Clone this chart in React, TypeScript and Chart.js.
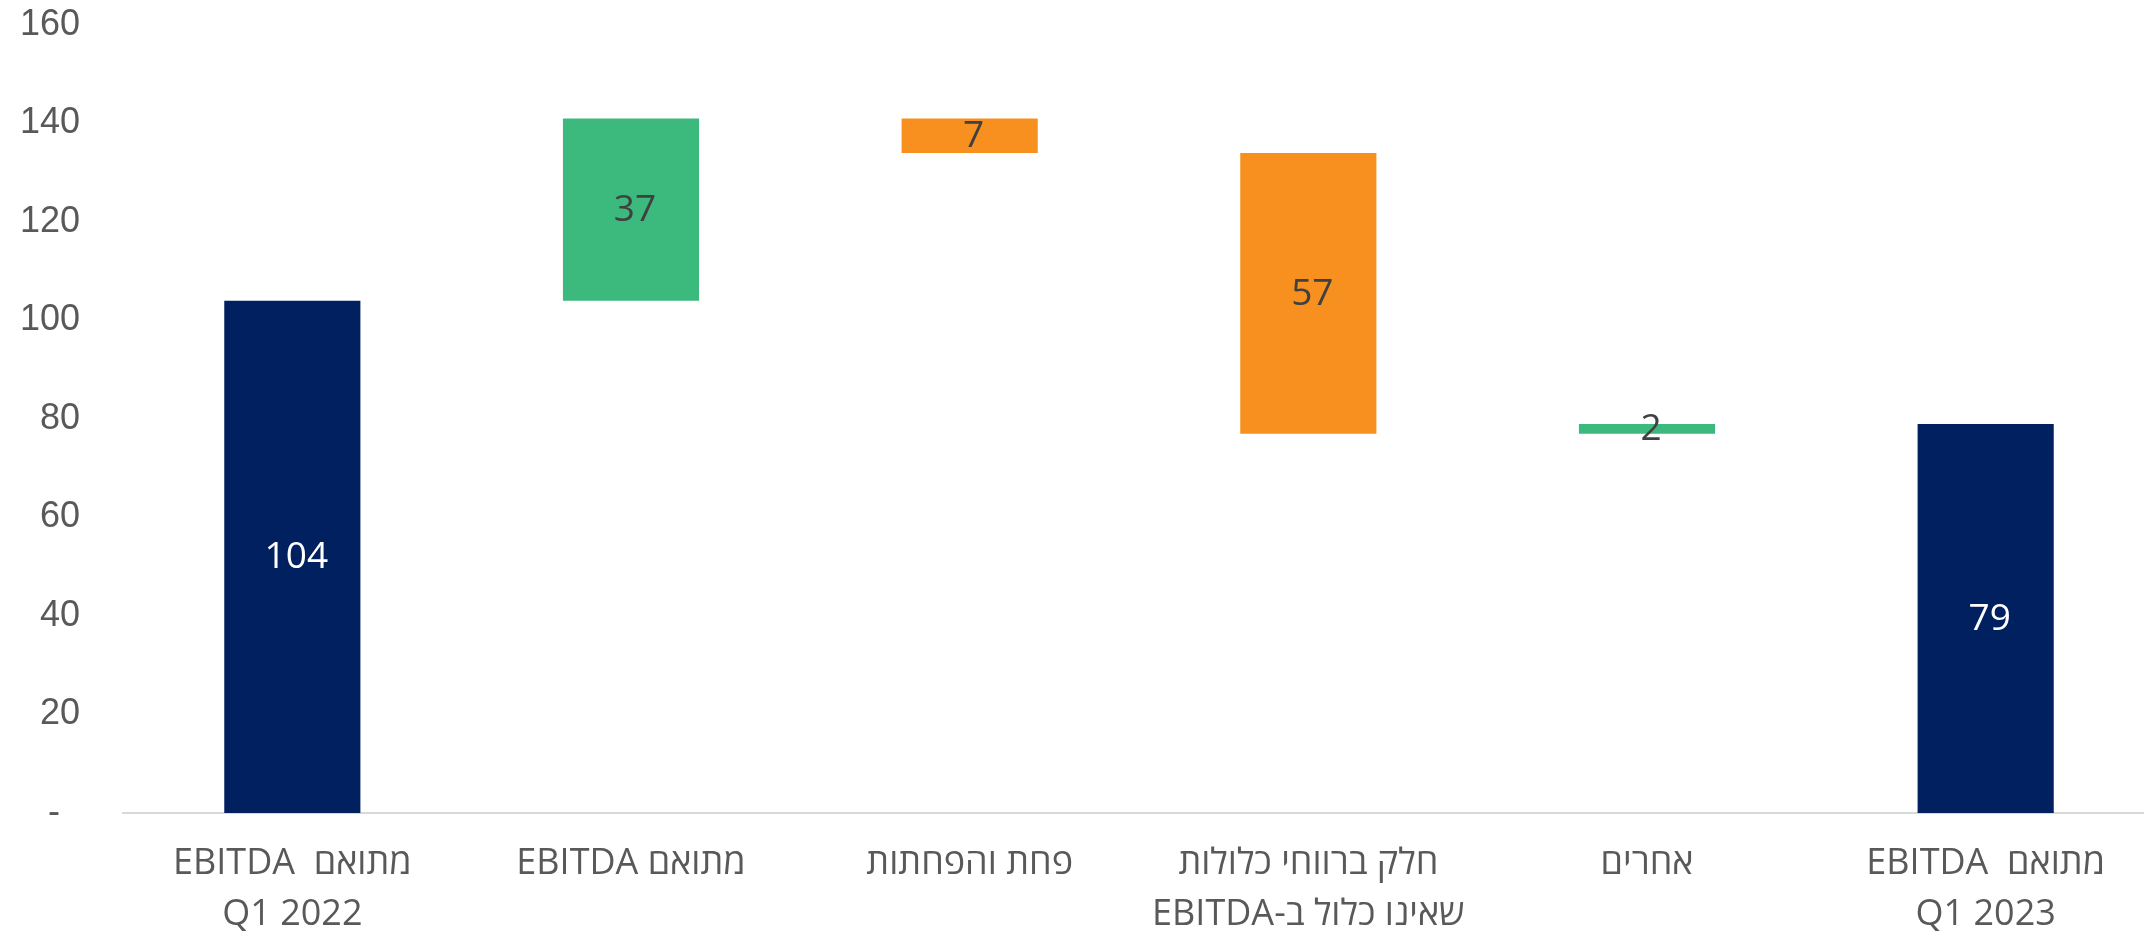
import React, { useEffect, useRef } from "react";
import { Chart, registerables } from "chart.js";

Chart.register(...registerables);

// Category labels (arrays = multi-line), written in visual order for an LTR canvas
const categories: (string | string[])[] = [
  ["EBITDA  מתואם", "Q1 2022"],
  "EBITDA מתואם",
  "פחת והפחתות",
  ["חלק ברווחי כלולות", "EBITDA-שאינו כלול ב"],
  "אחרים",
  ["EBITDA  מתואם", "Q1 2023"],
];

// Waterfall steps: totals start from 0, changes add to running total
const changes = [104, 37, -7, -57, 2, 79];
const isTotal = [true, false, false, false, false, true];
const displayValues = ["104", "37", "7", "57", "2", "79"];

const yTicks = [0, 20, 40, 60, 80, 100, 120, 140, 160];

const NAVY = "#002060";
const GREEN = "#3CB97C";
const ORANGE = "#F7901E";

function buildFloating() {
  let running = 0;
  const data: [number, number][] = [];
  const colors: string[] = [];
  changes.forEach((c, i) => {
    if (isTotal[i]) {
      data.push([0, c]);
      running = c;
      colors.push(NAVY);
    } else {
      const start = running;
      const end = running + c;
      data.push([Math.min(start, end), Math.max(start, end)]);
      running = end;
      colors.push(c >= 0 ? GREEN : ORANGE);
    }
  });
  return { data, colors };
}

const valueLabelPlugin = {
  id: "valueLabels",
  afterDatasetsDraw(chart: any) {
    const ctx = chart.ctx;
    const meta = chart.getDatasetMeta(0);
    ctx.save();
    ctx.font = '37px "Open Sans"';
    ctx.textAlign = "center";
    ctx.textBaseline = "middle";
    meta.data.forEach((el: any, i: number) => {
      const x = el.x + 4;
      const y = (el.y + el.base) / 2 + 1;
      ctx.fillStyle = isTotal[i] ? "#FFFFFF" : "#404040";
      ctx.fillText(displayValues[i], x, y);
    });
    ctx.restore();
  },
};

export default function App() {
  const ref = useRef<HTMLCanvasElement | null>(null);

  useEffect(() => {
    if (!ref.current) return;
    const { data, colors } = buildFloating();
    const chart = new Chart(ref.current, {
      type: "bar",
      data: {
        labels: categories,
        datasets: [
          {
            data: data as any,
            backgroundColor: colors,
            borderWidth: 0,
            barPercentage: 0.402,
            categoryPercentage: 1,
          },
        ],
      },
      options: {
        animation: false,
        responsive: false,
        devicePixelRatio: 1,
        layout: { padding: { top: 25, left: 0, right: 0, bottom: 0 } },
        plugins: {
          legend: { display: false },
          tooltip: { enabled: false },
        },
        scales: {
          x: {
            grid: { display: false, drawTicks: false },
            border: { display: true, color: "#D9D9D9", width: 2 },
            ticks: {
              color: "#595959",
              padding: 25,
              maxRotation: 0,
              autoSkip: false,
              font: { family: '"Open Sans"', size: 36, lineHeight: "51px" as any },
            },
            afterFit: (s: any) => {
              s.height = 123;
              s.paddingLeft = 0;
              s.paddingRight = 0;
            },
          },
          y: {
            min: 0,
            max: 160,
            grid: { display: false, drawTicks: false },
            border: { display: false },
            afterBuildTicks: (s: any) => {
              s.ticks = yTicks.map((v) => ({ value: v }));
            },
            ticks: {
              color: "#595959",
              padding: 43,
              font: { family: '"Liberation Sans", Arial', size: 36 },
              callback: (v: any) => (Number(v) === 0 ? "-  " : String(v)),
            },
            afterFit: (s: any) => {
              s.width = 123;
              s.paddingTop = 0;
              s.paddingBottom = 0;
            },
          },
        },
      },
      plugins: [valueLabelPlugin],
    });
    return () => chart.destroy();
  }, []);

  return (
    <div
      style={{
        position: "fixed",
        left: 0,
        top: 0,
        width: 2144,
        height: 936,
        overflow: "hidden",
        background: "#FFFFFF",
      }}
    >
      <canvas
        ref={ref}
        width={2155}
        height={936}
        style={{ display: "block", width: 2155, height: 936 }}
      />
    </div>
  );
}
